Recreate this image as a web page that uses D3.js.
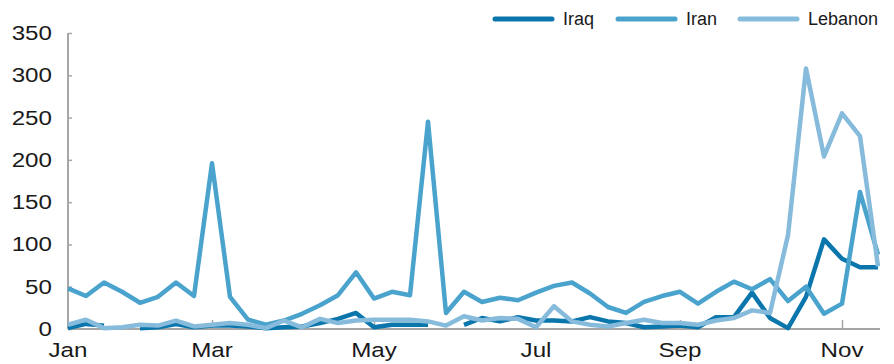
<!DOCTYPE html>
<html><head><meta charset="utf-8">
<script src="https://cdn.jsdelivr.net/npm/d3@7"></script>
<style>
html,body{margin:0;padding:0;background:#fff;}
svg{display:block;font-family:"Liberation Sans",Arial,Helvetica,sans-serif;}
</style></head>
<body><svg id="chart" width="894" height="364"></svg>
<script>
// Weekly observations, index 0 = first week of January
const seriesNames = ["Iraq", "Iran", "Lebanon"];
const iraq = [1,6,4,null,1,2,6,2,4,4,3,1,2,3,7,12,19,2,5,5,5,null,5,13,9,14,10,10,9,14,9,7,2,3,4,2,14,14,43,13,1,38,106,83,73,73];
const iran = [48,39,55,44,31,38,55,39,196,38,11,5,10,18,28,40,67,36,44,40,245,19,44,32,37,34,43,51,55,42,26,19,32,39,44,30,44,56,47,59,33,50,18,30,162,88];
const lebanon = [5,11,1,2,5,4,10,3,5,7,5,1,10,2,12,7,10,11,11,11,9,4,15,10,13,12,2,27,9,5,3,7,11,7,7,5,10,13,22,19,111,308,204,255,228,74];
const monthLabels = ["Jan","Mar","May","Jul","Sep","Nov"];
const monthWeekIndex = [0,8,17,26,34,43];
const yTicks = [0,50,100,150,200,250,300,350];

(function(){
const colors = {Iraq:"#0b76ac", Iran:"#4aa3cd", Lebanon:"#86bbdc"};
const data = {Iraq: iraq, Iran: iran, Lebanon: lebanon};

const svg = d3.select("#chart");
const mLeft = 68, mRight = 878, mTop = 33, mBottom = 329;
const x = d3.scaleLinear().domain([0, iran.length - 1]).range([mLeft, mRight]);
const y = d3.scaleLinear().domain([0, 350]).range([mBottom, mTop]);
const axisColor = "#a6a6a6";
const stretch = 1.24;

// Y axis
const yAxis = svg.append("g").attr("transform", `translate(${mLeft},0)`)
  .call(d3.axisRight(y).tickValues(yTicks).tickSize(4).tickFormat(""));
yAxis.select(".domain").attr("stroke", axisColor).attr("stroke-width", 2).attr("d", `M0,${mBottom}V${mTop}`);
yAxis.selectAll(".tick line").attr("stroke", axisColor).attr("stroke-width", 1.5);
svg.append("g").selectAll("text").data(yTicks).join("text")
  .attr("transform", d => `translate(52,${y(d)}) scale(${stretch},1)`)
  .attr("dy", "0.36em")
  .attr("text-anchor", "end").attr("font-size", 19.5).attr("fill", "#1a1a1a")
  .text(d => d);

// X axis
const xAxis = svg.append("g").attr("transform", `translate(0,${mBottom})`)
  .call(d3.axisTop(x).tickValues(monthWeekIndex.slice(1)).tickSize(9).tickFormat(""));
xAxis.select(".domain").attr("stroke", axisColor).attr("stroke-width", 2).attr("d", `M${mLeft},0H${mRight+2}`);
xAxis.selectAll(".tick line").attr("stroke", axisColor).attr("stroke-width", 1.5);
svg.append("g").selectAll("text").data(monthLabels).join("text")
  .attr("transform", (d, i) => `translate(${x(monthWeekIndex[i])},357) scale(${stretch},1)`)
  .attr("text-anchor", "middle").attr("font-size", 19.5).attr("fill", "#1a1a1a")
  .text(d => d);

// Lines
const line = d3.line().defined(d => d != null).x((d, i) => x(i)).y(d => y(d));
seriesNames.forEach(name => {
  svg.append("path").datum(data[name])
    .attr("fill", "none").attr("stroke", colors[name]).attr("stroke-width", 4.5)
    .attr("stroke-linejoin", "round").attr("stroke-linecap", "butt")
    .attr("d", line);
});

// Legend
const legendX = [495, 618, 740];
const lg = svg.append("g").selectAll("g").data(seriesNames).join("g")
  .attr("transform", (d, i) => `translate(${legendX[i]},19)`);
lg.append("line").attr("x1", 0).attr("x2", 57).attr("y1", 0).attr("y2", 0)
  .attr("stroke", d => colors[d]).attr("stroke-width", 5).attr("stroke-linecap", "round");
lg.append("text").attr("x", 68).attr("y", 0).attr("dy", "0.36em")
  .attr("font-size", 18).attr("fill", "#1a1a1a").text(d => d);
})();
</script></body></html>
